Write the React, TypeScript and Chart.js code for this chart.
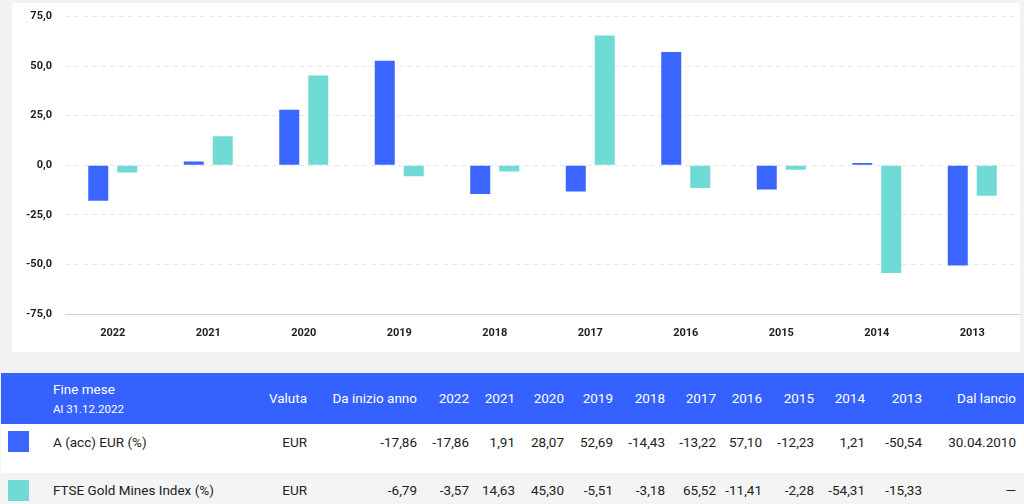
import React, { useEffect, useRef } from "react";
import { Chart, registerables } from "chart.js";

Chart.register(...registerables);

const categories = ["2022", "2021", "2020", "2019", "2018", "2017", "2016", "2015", "2014", "2013"];
const fundValues = [-17.86, 1.91, 28.07, 52.69, -14.43, -13.22, 57.1, -12.23, 1.21, -50.54];
const indexValues = [-3.57, 14.63, 45.3, -5.51, -3.18, 65.52, -11.41, -2.28, -54.31, -15.33];
const yTicks = [-75, -50, -25, 0, 25, 50, 75];
const fundLabel = "A (acc) EUR (%)";
const indexLabel = "FTSE Gold Mines Index (%)";
const currency = "EUR";
const fundYtd = -17.86;
const indexYtd = -6.79;
const fundLaunch = "30.04.2010";
const indexLaunch = "—";
const headerTitle = "Fine mese";
const headerSub = "Al 31.12.2022";
const headerCols = ["Valuta", "Da inizio anno", ...categories, "Dal lancio"];

const BLUE = "#3a66ff";
const TEAL = "#70dad4";
const FONT = "Roboto, 'Noto Sans', sans-serif";

const colRight = [307, 417, 469, 515, 564, 613, 665, 716, 762, 814, 865, 922, 1016];

const fmt = (v: number) => v.toFixed(2).replace(".", ",");

function Cell({ right, top, text, color, size }: { right: number; top: number; text: string; color: string; size: number }) {
  return (
    <div
      style={{
        position: "absolute",
        right: 1024 - right,
        top: top,
        color,
        fontSize: size,
        lineHeight: "20px",
        height: 20,
        whiteSpace: "nowrap",
        textAlign: "right",
      }}
    >
      {text}
    </div>
  );
}

export default function App() {
  const ref = useRef<HTMLCanvasElement>(null);

  useEffect(() => {
    if (!ref.current) return;
    const chart = new Chart(ref.current, {
      type: "bar",
      data: {
        labels: categories,
        datasets: [
          {
            label: fundLabel,
            data: fundValues,
            backgroundColor: BLUE,
            borderWidth: 0,
            categoryPercentage: 0.607,
            barPercentage: 0.69,
          },
          {
            label: indexLabel,
            data: indexValues,
            backgroundColor: TEAL,
            borderWidth: 0,
            categoryPercentage: 0.607,
            barPercentage: 0.69,
          },
        ],
      },
      options: {
        animation: false,
        responsive: false,
        maintainAspectRatio: false,
        layout: { padding: { left: 0, right: 4, top: 12, bottom: 0 } },
        plugins: { legend: { display: false }, tooltip: { enabled: false } },
        scales: {
          x: {
            grid: { display: false, drawTicks: false },
            border: { display: true, color: "#cfd3da", width: 1 },
            ticks: {
              padding: 13,
              color: "#1e1e1e",
              font: { family: FONT, size: 11, weight: "bold" },
            },
            afterFit: (s: any) => {
              s.height = 35;
            },
          },
          y: {
            min: -75,
            max: 75,
            afterBuildTicks: (s: any) => {
              s.ticks = yTicks.map((v) => ({ value: v }));
            },
            grid: { color: "#e6e8ec", drawTicks: false, lineWidth: 1 },
            border: { display: false, dash: [5, 4] },
            ticks: {
              padding: 13,
              color: "#1e1e1e",
              font: { family: FONT, size: 11, weight: "bold" },
              callback: (v: any) => Number(v).toFixed(1).replace(".", ","),
            },
            afterFit: (s: any) => {
              s.width = 65;
            },
          },
        },
      },
    });
    return () => chart.destroy();
  }, []);

  const fundRow = [currency, fmt(fundYtd), ...fundValues.map(fmt), fundLaunch];
  const indexRow = [currency, fmt(indexYtd), ...indexValues.map(fmt), indexLaunch];

  return (
    <div
      style={{
        position: "absolute",
        left: 0,
        top: 0,
        width: 1024,
        height: 504,
        background: "#f2f2f3",
        fontFamily: FONT,
        overflow: "hidden",
      }}
    >
      <div style={{ position: "absolute", left: 12, top: 3, width: 1008, height: 349, background: "#ffffff" }} />
      <canvas ref={ref} width={1024} height={352} style={{ position: "absolute", left: 0, top: -3, width: 1024, height: 352 }} />
      <div style={{ position: "absolute", left: 1, top: 373, width: 1023, height: 51, background: "#3562ff" }} />
      <div style={{ position: "absolute", left: 1, top: 424, width: 1023, height: 49, background: "#ffffff" }} />
      <div style={{ position: "absolute", left: 1, top: 473, width: 1023, height: 31, background: "#f4f4f5" }} />
      <div style={{ position: "absolute", left: 53, top: 379, color: "#fff", fontSize: 13.5, lineHeight: "20px" }}>{headerTitle}</div>
      <div style={{ position: "absolute", left: 53, top: 400, color: "#fff", fontSize: 11.5, lineHeight: "18px" }}>{headerSub}</div>
      {headerCols.map((t, i) => (
        <Cell key={"h" + i} right={colRight[i]} top={388} text={t} color="#ffffff" size={13.5} />
      ))}
      <div style={{ position: "absolute", left: 8, top: 431, width: 21, height: 21, background: BLUE }} />
      <div style={{ position: "absolute", left: 53, top: 432, color: "#222", fontSize: 13.5, lineHeight: "20px" }}>{fundLabel}</div>
      {fundRow.map((t, i) => (
        <Cell key={"f" + i} right={colRight[i]} top={432} text={t} color="#222222" size={13.5} />
      ))}
      <div style={{ position: "absolute", left: 8, top: 480, width: 21, height: 21, background: TEAL }} />
      <div style={{ position: "absolute", left: 53, top: 480, color: "#222", fontSize: 13.5, lineHeight: "20px" }}>{indexLabel}</div>
      {indexRow.map((t, i) => (
        <Cell key={"i" + i} right={colRight[i]} top={480} text={t} color="#222222" size={13.5} />
      ))}
    </div>
  );
}
